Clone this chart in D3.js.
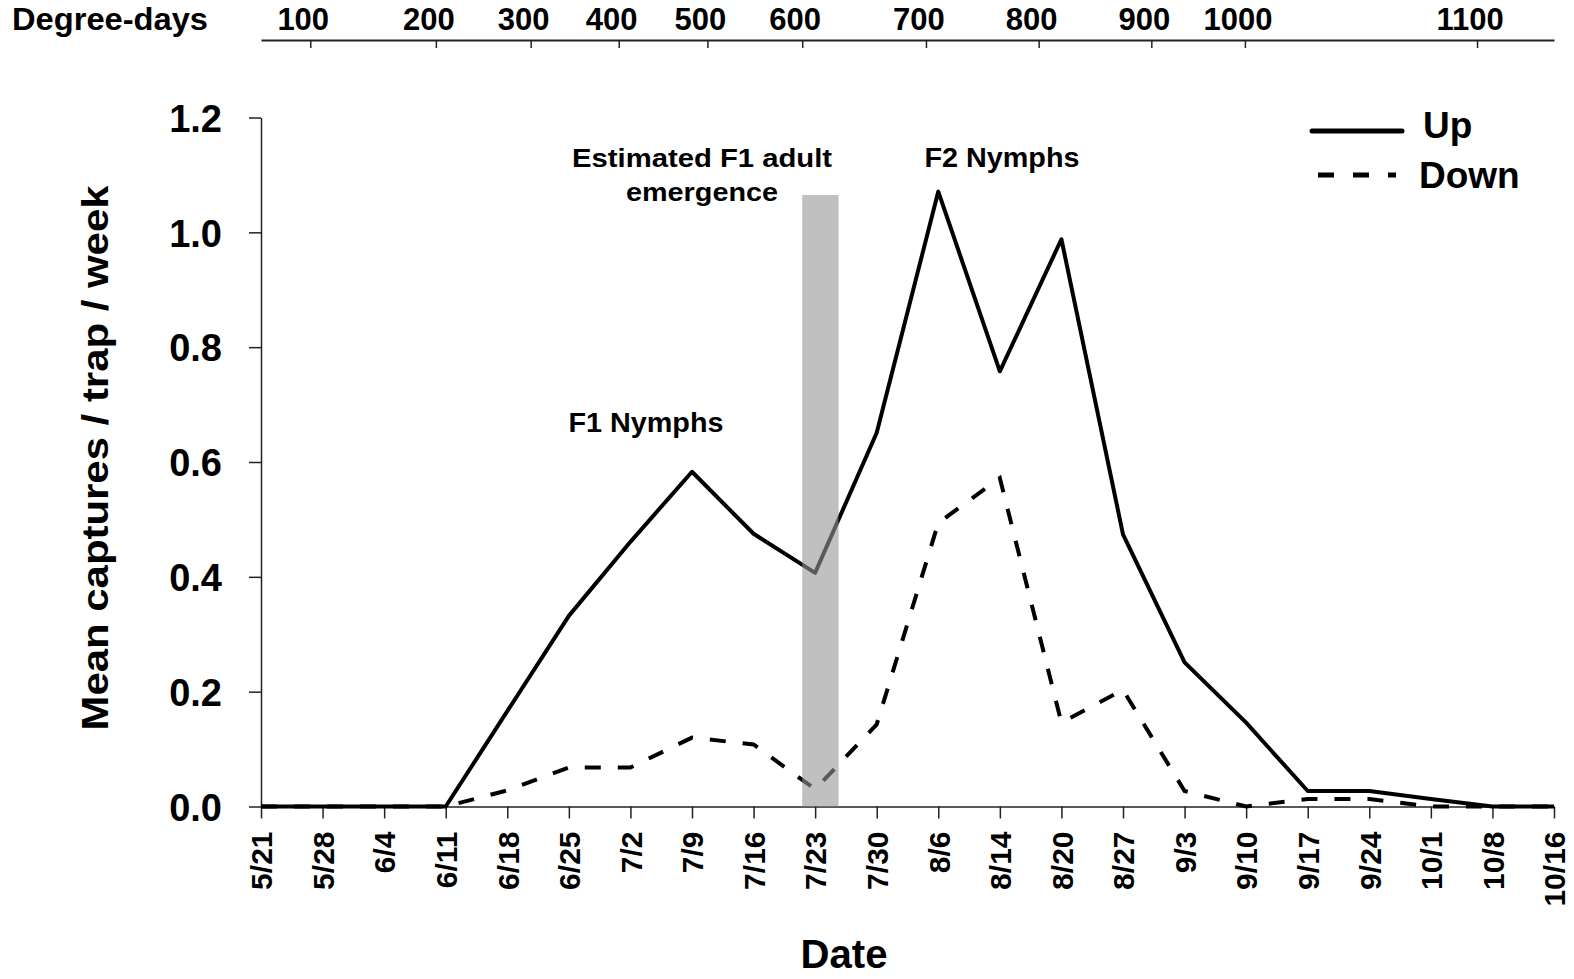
<!DOCTYPE html>
<html>
<head>
<meta charset="utf-8">
<script src="https://cdn.jsdelivr.net/npm/d3@7"></script>
<style>
  body { margin: 0; background: #fff; }
  text { font-family: "Liberation Sans", Arial, sans-serif; font-weight: bold; fill: #000; }
</style>
</head>
<body>
<script>
// weekly trap dates
const dates = ["5/21","5/28","6/4","6/11","6/18","6/25","7/2","7/9","7/16","7/23","7/30",
               "8/6","8/14","8/20","8/27","9/3","9/10","9/17","9/24","10/1","10/8","10/16"];
// mean captures / trap / week
const upVals   = [0,0,0,0,0.166,0.332,0.461,0.583,0.475,0.407,0.651,1.071,0.758,0.988,0.474,0.251,0.146,0.027,0.027,0.013,0,0];
const downVals = [0,0,0,0,0.028,0.068,0.068,0.120,0.108,0.030,0.143,0.494,0.572,0.146,0.203,0.027,0,0.013,0.013,0,0,0];
// degree-days and where they fall on the date axis (fractional date index)
const ddValues = [100,200,300,400,500,600,700,800,900,1000,1100];
const ddIndex  = [0.80,2.84,4.38,5.81,7.25,8.79,10.80,12.63,14.46,15.98,19.75];
// F1 adult emergence window (date index) and its height
const emergence = {from: 8.79, to: 9.38, top: 1.065};
const yTicks = [0,0.2,0.4,0.6,0.8,1.0,1.2];

const W = 1574, H = 979;
const mLeft = 261, mRight = 1554, mTop = 117.5, mBottom = 806.5;

const svg = d3.select("body").append("svg")
  .attr("width", W).attr("height", H);

const x = d3.scalePoint().domain(dates).range([mLeft, mRight]);
const xi = d3.scaleLinear().domain([0, dates.length - 1]).range([mLeft, mRight]);
const y = d3.scaleLinear().domain([0, 1.2]).range([mBottom, mTop]);

// top degree-day axis
const topAxis = svg.append("g")
  .attr("transform", "translate(0,40)")
  .call(d3.axisBottom(xi).tickValues(ddIndex).tickSize(8).tickSizeOuter(0).tickFormat(""));
topAxis.select(".domain").attr("stroke", "#222").attr("stroke-width", 2);
topAxis.selectAll(".tick line").attr("stroke", "#222").attr("stroke-width", 1.5);

svg.append("g").selectAll("text")
  .data(ddValues)
  .join("text")
  .attr("x", (d, i) => xi(ddIndex[i]) - 7)
  .attr("y", 30)
  .attr("text-anchor", "middle")
  .attr("font-size", 31)
  .text(d => d);

svg.append("text")
  .attr("x", 12).attr("y", 30)
  .attr("font-size", 31)
  .attr("textLength", 196).attr("lengthAdjust", "spacingAndGlyphs")
  .text("Degree-days");

// y axis
const yAxis = svg.append("g")
  .attr("transform", `translate(${mLeft},0)`)
  .call(d3.axisLeft(y).tickValues(yTicks).tickSize(12).tickSizeOuter(0).tickFormat(d3.format(".1f")));
yAxis.select(".domain").attr("stroke", "#222").attr("stroke-width", 1.5);
yAxis.selectAll(".tick line").attr("stroke", "#222").attr("stroke-width", 1.5);
yAxis.selectAll(".tick text")
  .attr("x", -39)
  .attr("dy", "0.36em")
  .attr("font-size", 38)
  .style("font-family", "'Liberation Sans', Arial, sans-serif")
  .style("font-weight", "bold")
  .attr("fill", "#000");

svg.append("text")
  .attr("transform", "translate(108,458) rotate(-90)")
  .attr("text-anchor", "middle")
  .attr("font-size", 37)
  .attr("textLength", 545).attr("lengthAdjust", "spacingAndGlyphs")
  .text("Mean captures / trap / week");

// x axis
const xAxis = svg.append("g")
  .attr("transform", `translate(0,${mBottom})`)
  .call(d3.axisBottom(x).tickSize(12).tickSizeOuter(0));
xAxis.select(".domain").attr("stroke", "#222").attr("stroke-width", 1.5);
xAxis.selectAll(".tick line").attr("stroke", "#222").attr("stroke-width", 1.5);
xAxis.selectAll(".tick text")
  .attr("transform", "rotate(-90)")
  .attr("text-anchor", "end")
  .attr("x", -25)
  .attr("y", 0)
  .attr("dy", "0.36em")
  .attr("font-size", 30)
  .style("font-family", "'Liberation Sans', Arial, sans-serif")
  .style("font-weight", "bold")
  .attr("fill", "#000");

svg.append("text")
  .attr("x", 844).attr("y", 968)
  .attr("text-anchor", "middle")
  .attr("font-size", 41)
  .attr("textLength", 87).attr("lengthAdjust", "spacingAndGlyphs")
  .text("Date");

// series
const line = d3.line().x((d, i) => x(dates[i])).y(d => y(d));

svg.append("path")
  .datum(downVals)
  .attr("fill", "none")
  .attr("stroke", "#000")
  .attr("stroke-width", 4)
  .attr("stroke-dasharray", "16,17")
  .attr("d", line);

svg.append("path")
  .datum(upVals)
  .attr("fill", "none")
  .attr("stroke", "#000")
  .attr("stroke-width", 4)
  .attr("stroke-linejoin", "round")
  .attr("d", line);

// emergence band drawn over the lines
svg.append("rect")
  .attr("x", xi(emergence.from))
  .attr("y", y(emergence.top))
  .attr("width", xi(emergence.to) - xi(emergence.from))
  .attr("height", y(0) - y(emergence.top))
  .attr("fill", "rgb(150,150,150)")
  .attr("opacity", 0.6);

// annotations
svg.append("text").attr("x", 702).attr("y", 167).attr("text-anchor", "middle")
  .attr("font-size", 25).attr("textLength", 260).attr("lengthAdjust", "spacingAndGlyphs")
  .text("Estimated F1 adult");
svg.append("text").attr("x", 702).attr("y", 201).attr("text-anchor", "middle")
  .attr("font-size", 25).attr("textLength", 152).attr("lengthAdjust", "spacingAndGlyphs")
  .text("emergence");
svg.append("text").attr("x", 646).attr("y", 432).attr("text-anchor", "middle")
  .attr("font-size", 27).attr("textLength", 155).attr("lengthAdjust", "spacingAndGlyphs")
  .text("F1 Nymphs");
svg.append("text").attr("x", 1002).attr("y", 167).attr("text-anchor", "middle")
  .attr("font-size", 27).attr("textLength", 155).attr("lengthAdjust", "spacingAndGlyphs")
  .text("F2 Nymphs");

// legend
const legend = svg.append("g");
legend.append("line").attr("x1", 1312).attr("x2", 1402).attr("y1", 131).attr("y2", 131)
  .attr("stroke", "#000").attr("stroke-width", 5).attr("stroke-linecap", "round");
legend.append("text").attr("x", 1423).attr("y", 138).attr("font-size", 37).text("Up");
legend.append("line").attr("x1", 1318).attr("x2", 1396).attr("y1", 175).attr("y2", 175)
  .attr("stroke", "#000").attr("stroke-width", 5).attr("stroke-dasharray", "16,19");
legend.append("text").attr("x", 1419).attr("y", 188).attr("font-size", 37).text("Down");
</script>
</body>
</html>
